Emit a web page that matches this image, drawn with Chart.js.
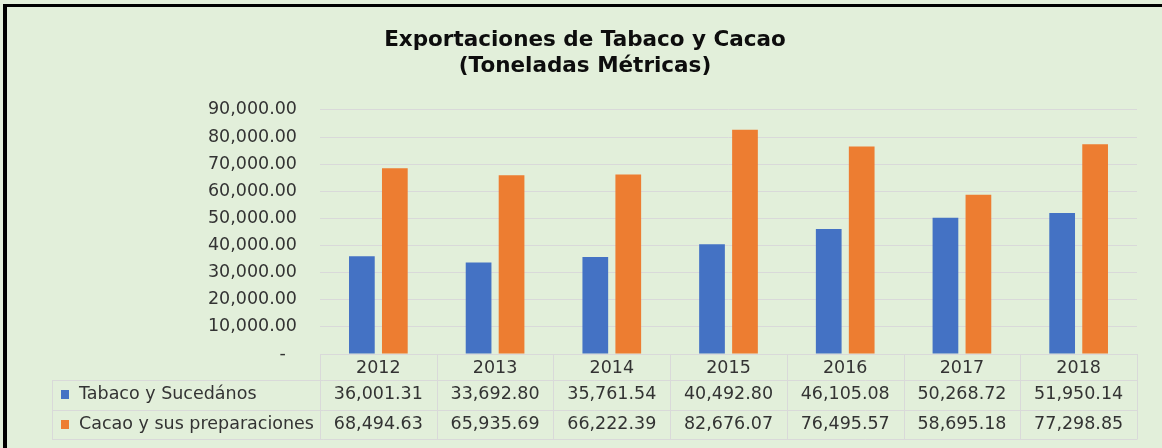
<!DOCTYPE html>
<html>
<head>
<meta charset="utf-8">
<script src="https://cdn.jsdelivr.net/npm/chart.js@4.4.1/dist/chart.umd.min.js"></script>
<style>
  html, body { margin: 0; padding: 0; background: #ffffff; }
  #chart { display: block; }
</style>
</head>
<body>
<canvas id="chart" width="1162" height="448"></canvas>
<script>
// chart data
const years = ['2012', '2013', '2014', '2015', '2016', '2017', '2018'];
const tabaco = [36001.31, 33692.80, 35761.54, 40492.80, 46105.08, 50268.72, 51950.14];
const cacao = [68494.63, 65935.69, 66222.39, 82676.07, 76495.57, 58695.18, 77298.85];
const seriesNames = ['Tabaco y Sucedános', 'Cacao y sus preparaciones'];
const seriesColors = ['#4472C4', '#ED7D31'];

const FONT = 'DejaVu Sans';
const textColor = '#333333';
const lineColor = '#D9D9D9';

function fmt(v) {
    return v.toLocaleString('en-US', { minimumFractionDigits: 2, maximumFractionDigits: 2 });
}

// background, frame and the data table under the plot
const tablePlugin = {
    id: 'dataTable',
    beforeDraw(chart) {
        const ctx = chart.ctx;
        ctx.save();
        ctx.fillStyle = '#E2EFDA';
        ctx.fillRect(0, 0, chart.width, chart.height);
        ctx.fillStyle = '#000000';
        ctx.fillRect(3, 4, 4, chart.height - 4);
        ctx.fillRect(3, 4, chart.width - 3, 3);
        ctx.restore();
    },
    afterDraw(chart) {
        const { ctx, chartArea } = chart;
        const x = chart.scales.x;
        const top = chartArea.bottom;
        const headerBottom = top + 26;
        const rowH = 29.5;
        const tableLeft = 52;
        const right = chartArea.right;
        const bottom = headerBottom + rowH * 2;

        ctx.save();
        ctx.strokeStyle = lineColor;
        ctx.lineWidth = 1;
        ctx.beginPath();
        // horizontal lines
        ctx.moveTo(chartArea.left, top + 0.5);
        ctx.lineTo(right, top + 0.5);
        [headerBottom, headerBottom + rowH, bottom].forEach(y => {
            const yy = Math.round(y) + 0.5;
            ctx.moveTo(tableLeft, yy);
            ctx.lineTo(right, yy);
        });
        // vertical lines
        const w = (right - chartArea.left) / years.length;
        for (let i = 0; i <= years.length; i++) {
            const xx = Math.round(chartArea.left + i * w) + 0.5;
            ctx.moveTo(xx, top);
            ctx.lineTo(xx, Math.round(bottom) + 0.5);
        }
        ctx.moveTo(tableLeft + 0.5, Math.round(headerBottom));
        ctx.lineTo(tableLeft + 0.5, Math.round(bottom) + 0.5);
        ctx.stroke();

        // rows
        const rows = [tabaco, cacao];
        ctx.font = '17.5px "' + FONT + '"';
        ctx.textBaseline = 'middle';
        rows.forEach((vals, r) => {
            const cy = headerBottom + rowH * r + rowH / 2;
            ctx.fillStyle = seriesColors[r];
            ctx.fillRect(61, Math.round(cy - 4.5), 8, 9);
            ctx.fillStyle = textColor;
            ctx.textAlign = 'left';
            ctx.fillText(seriesNames[r], 79, cy);
            ctx.textAlign = 'center';
            vals.forEach((v, i) => {
                ctx.fillText(fmt(v), x.getPixelForValue(i), cy);
            });
        });
        ctx.restore();
    }
};

const ctx = document.getElementById('chart').getContext('2d');
const chart = new Chart(ctx, {
    type: 'bar',
    data: {
        labels: years,
        datasets: [
            {
                label: seriesNames[0],
                data: tabaco,
                backgroundColor: seriesColors[0]
            },
            {
                label: seriesNames[1],
                data: cacao,
                backgroundColor: seriesColors[1]
            }
        ]
    },
    options: {
        responsive: false,
        animation: false,
        devicePixelRatio: 1,
        categoryPercentage: 0.565,
        barPercentage: 0.78,
        layout: {
            padding: { left: 8, right: 0, top: 0, bottom: 68 }
        },
        plugins: {
            legend: { display: false },
            tooltip: { enabled: false },
            title: {
                display: true,
                text: ['Exportaciones de Tabaco y Cacao', '(Toneladas Métricas)'],
                color: '#0d0d0d',
                font: { family: FONT, size: 21.5, weight: 'bold', lineHeight: 1.23 },
                padding: { top: 27, bottom: 30 }
            }
        },
        scales: {
            x: {
                grid: { display: false, drawTicks: false },
                border: { display: false },
                ticks: {
                    color: textColor,
                    font: { family: FONT, size: 17.5 },
                    padding: 4,
                    maxRotation: 0
                },
                afterFit(scale) { scale.height = 26; }
            },
            y: {
                min: 0,
                max: 90000,
                grid: { color: lineColor, lineWidth: 1, drawTicks: false },
                border: { display: false },
                ticks: {
                    stepSize: 10000,
                    color: textColor,
                    font: { family: FONT, size: 17.5 },
                    padding: 23,
                    callback: v => v === 0 ? '-  ' : fmt(v)
                },
                afterFit(scale) { scale.width = 312; }
            },
            // empty right-hand margin so the plot ends where the reference does
            yRight: {
                position: 'right',
                grid: { display: false },
                border: { display: false },
                ticks: { display: false },
                afterFit(scale) { scale.width = 25; }
            }
        }
    },
    plugins: [tablePlugin]
});
</script>
</body>
</html>
